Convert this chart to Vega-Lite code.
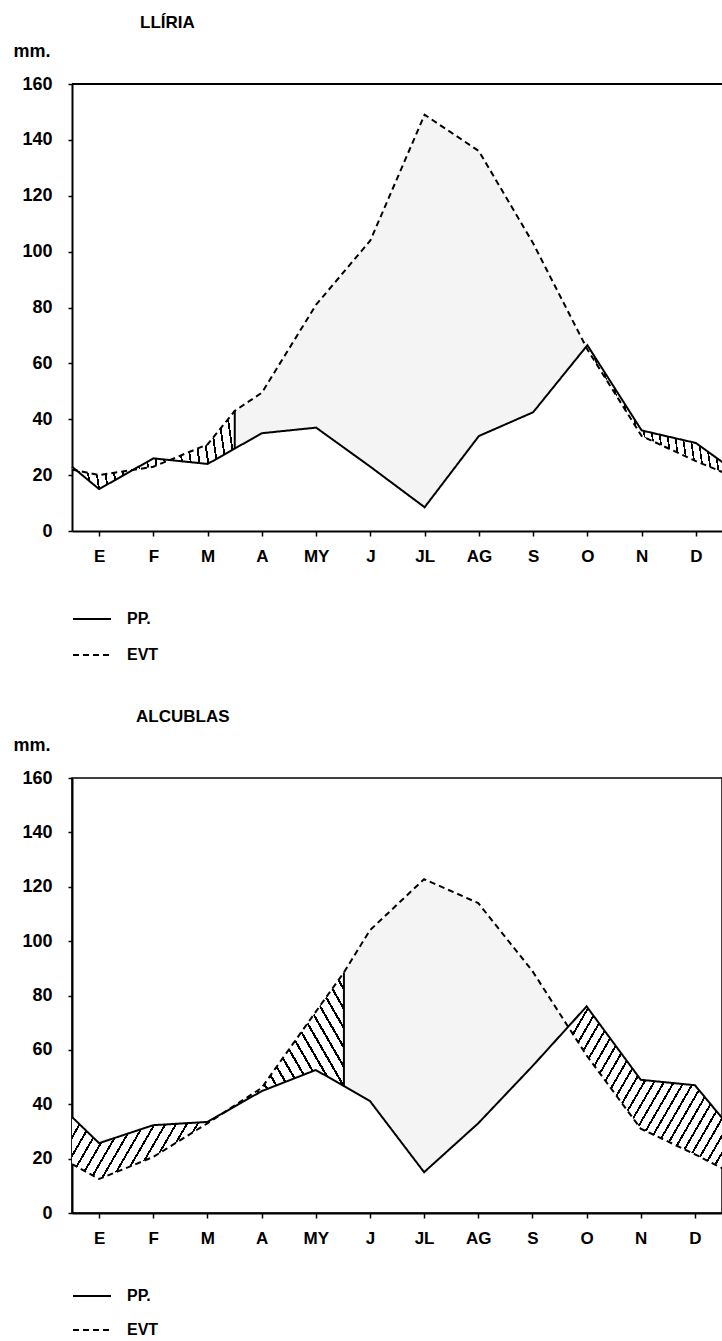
{
"$schema":"https://vega.github.io/schema/vega-lite/v6.json",
"background":"white",
"padding":{"left":12,"top":14,"right":0,"bottom":0},
"spacing":44,
"resolve":{"scale":{"strokeDash":"independent"},"legend":{"strokeDash":"independent"}},
"config":{
 "font":"Liberation Sans",
 "view":{"stroke":"#000","strokeWidth":1.5},
 "axis":{"domainColor":"#000","domainWidth":2,"tickColor":"#000","tickWidth":1.5,"labelColor":"#000","labelFontWeight":"bold","grid":false,"titleColor":"#000"},
 "axisY":{"tickSize":4,"labelPadding":16,"labelFontSize":18,"titleAngle":0,"titleAlign":"left","titleBaseline":"alphabetic","titleX":-59,"titleY":-28,"titleFontSize":18,"titleFontWeight":"bold"},
 "axisX":{"tickSize":5,"labelPadding":12,"labelFontSize":17},
 "legend":{"orient":"bottom","direction":"vertical","title":null,"symbolType":"stroke","symbolSize":1444,"symbolStrokeWidth":2,"symbolStrokeColor":"#000","labelFontSize":16,"labelFontWeight":"bold","labelColor":"#000","labelOffset":15},
 "title":{"fontSize":17,"fontWeight":"bold","color":"#000","anchor":"start","frame":"group","offset":10}
},
"datasets":{
 "lliria":[
  {"mes":0.5,"pp":23,"evt":22,"zona":"Z1"},
  {"mes":1,"pp":15,"evt":20,"zona":"Z1"},
  {"mes":2,"pp":26,"evt":23,"zona":"Z1"},
  {"mes":3,"pp":24,"evt":31,"zona":"Z1"},
  {"mes":3.5,"pp":29.5,"evt":43,"zona":"Z1"},
  {"mes":3.5,"pp":29.5,"evt":43,"zona":"Z2"},
  {"mes":4,"pp":35,"evt":49.5,"zona":"Z2"},
  {"mes":5,"pp":37,"evt":81,"zona":"Z2"},
  {"mes":6,"pp":23,"evt":104,"zona":"Z2"},
  {"mes":7,"pp":8.5,"evt":149,"zona":"Z2"},
  {"mes":8,"pp":34,"evt":136,"zona":"Z2"},
  {"mes":9,"pp":42.5,"evt":103,"zona":"Z2"},
  {"mes":10,"pp":66.5,"evt":65,"zona":"Z2"},
  {"mes":10,"pp":66.5,"evt":65,"zona":"Z3"},
  {"mes":11,"pp":36,"evt":34,"zona":"Z3"},
  {"mes":12,"pp":31.5,"evt":25,"zona":"Z3"},
  {"mes":12.5,"pp":24.5,"evt":21,"zona":"Z3"}
 ],
 "alcublas":[
  {"mes":0.5,"pp":35.3,"evt":18,"zona":"B1"},
  {"mes":1,"pp":25.7,"evt":12.5,"zona":"B1"},
  {"mes":2,"pp":32.3,"evt":20.6,"zona":"B1"},
  {"mes":3,"pp":33.5,"evt":33,"zona":"B1"},
  {"mes":3,"pp":33.5,"evt":33,"zona":"B2"},
  {"mes":4,"pp":44.8,"evt":46,"zona":"B2"},
  {"mes":5,"pp":52.6,"evt":74,"zona":"B2"},
  {"mes":5.52,"pp":46.7,"evt":88.5,"zona":"B2"},
  {"mes":5.52,"pp":46.7,"evt":88.5,"zona":"B3"},
  {"mes":6,"pp":41.2,"evt":104,"zona":"B3"},
  {"mes":7,"pp":15,"evt":122.8,"zona":"B3"},
  {"mes":8,"pp":33,"evt":114,"zona":"B3"},
  {"mes":9,"pp":54,"evt":89,"zona":"B3"},
  {"mes":9.66,"pp":68.5,"evt":68.5,"zona":"B3"},
  {"mes":9.66,"pp":68.5,"evt":68.5,"zona":"B4"},
  {"mes":10,"pp":76,"evt":58,"zona":"B4"},
  {"mes":11,"pp":49,"evt":31,"zona":"B4"},
  {"mes":12,"pp":47,"evt":21.6,"zona":"B4"},
  {"mes":12.5,"pp":35,"evt":16.5,"zona":"B4"}
 ],
 "cortes":[
  {"estacion":"Llíria","mes":3.5,"pp":29.5,"evt":43},
  {"estacion":"Alcublas","mes":5.52,"pp":46.7,"evt":88.5}
 ]
},
"vconcat":[
 {
  "width":651,"height":447,
  "view":{"stroke":null},
  "title":{"text":"LLÍRIA","dx":68},
  "data":{"name":"lliria"},
  "layer":[
   {"transform":[{"filter":"datum.zona == 'Z1'"}],
    "mark":{"type":"area","stroke":null,"fill":{"gradient":"linear","x1":0,"y1":1,"x2":1.062,"y2":0.928,"stops":[{"offset":0,"color":"#fff"},{"offset":0.05,"color":"#fff"},{"offset":0.05,"color":"#000"},{"offset":0.061,"color":"#000"},{"offset":0.061,"color":"#fff"},{"offset":0.1,"color":"#fff"},{"offset":0.1,"color":"#000"},{"offset":0.111,"color":"#000"},{"offset":0.111,"color":"#fff"},{"offset":0.15,"color":"#fff"},{"offset":0.15,"color":"#000"},{"offset":0.161,"color":"#000"},{"offset":0.161,"color":"#fff"},{"offset":0.2,"color":"#fff"},{"offset":0.2,"color":"#000"},{"offset":0.211,"color":"#000"},{"offset":0.211,"color":"#fff"},{"offset":0.25,"color":"#fff"},{"offset":0.25,"color":"#000"},{"offset":0.261,"color":"#000"},{"offset":0.261,"color":"#fff"},{"offset":0.3,"color":"#fff"},{"offset":0.3,"color":"#000"},{"offset":0.311,"color":"#000"},{"offset":0.311,"color":"#fff"},{"offset":0.35,"color":"#fff"},{"offset":0.35,"color":"#000"},{"offset":0.361,"color":"#000"},{"offset":0.361,"color":"#fff"},{"offset":0.4,"color":"#fff"},{"offset":0.4,"color":"#000"},{"offset":0.411,"color":"#000"},{"offset":0.411,"color":"#fff"},{"offset":0.45,"color":"#fff"},{"offset":0.45,"color":"#000"},{"offset":0.461,"color":"#000"},{"offset":0.461,"color":"#fff"},{"offset":0.5,"color":"#fff"},{"offset":0.5,"color":"#000"},{"offset":0.511,"color":"#000"},{"offset":0.511,"color":"#fff"},{"offset":0.55,"color":"#fff"},{"offset":0.55,"color":"#000"},{"offset":0.561,"color":"#000"},{"offset":0.561,"color":"#fff"},{"offset":0.6,"color":"#fff"},{"offset":0.6,"color":"#000"},{"offset":0.611,"color":"#000"},{"offset":0.611,"color":"#fff"},{"offset":0.65,"color":"#fff"},{"offset":0.65,"color":"#000"},{"offset":0.661,"color":"#000"},{"offset":0.661,"color":"#fff"},{"offset":0.7,"color":"#fff"},{"offset":0.7,"color":"#000"},{"offset":0.711,"color":"#000"},{"offset":0.711,"color":"#fff"},{"offset":0.75,"color":"#fff"},{"offset":0.75,"color":"#000"},{"offset":0.761,"color":"#000"},{"offset":0.761,"color":"#fff"},{"offset":0.8,"color":"#fff"},{"offset":0.8,"color":"#000"},{"offset":0.811,"color":"#000"},{"offset":0.811,"color":"#fff"},{"offset":0.85,"color":"#fff"},{"offset":0.85,"color":"#000"},{"offset":0.861,"color":"#000"},{"offset":0.861,"color":"#fff"},{"offset":0.9,"color":"#fff"},{"offset":0.9,"color":"#000"},{"offset":0.911,"color":"#000"},{"offset":0.911,"color":"#fff"},{"offset":0.95,"color":"#fff"},{"offset":0.95,"color":"#000"},{"offset":0.961,"color":"#000"},{"offset":0.961,"color":"#fff"},{"offset":1,"color":"#fff"}]}},
    "encoding":{
     "x":{"field":"mes","type":"quantitative","scale":{"domain":[0.5,12.5],"nice":false,"zero":false},"axis":{"values":[1,2,3,4,5,6,7,8,9,10,11,12],"labelExpr":"['E','F','M','A','MY','J','JL','AG','S','O','N','D'][datum.value-1]","title":null}},
     "y":{"field":"pp","type":"quantitative","title":"mm.","scale":{"domain":[0,160],"nice":false},"axis":{"values":[0,20,40,60,80,100,120,140,160]}},
     "y2":{"field":"evt"}}},
   {"transform":[{"filter":"datum.zona == 'Z2'"}],
    "mark":{"type":"area","stroke":null,"fill":"#f4f4f4"},
    "encoding":{
     "x":{"field":"mes","type":"quantitative","scale":{"domain":[0.5,12.5],"nice":false,"zero":false},"axis":{"values":[1,2,3,4,5,6,7,8,9,10,11,12],"labelExpr":"['E','F','M','A','MY','J','JL','AG','S','O','N','D'][datum.value-1]","title":null}},
     "y":{"field":"pp","type":"quantitative","title":"mm.","scale":{"domain":[0,160],"nice":false},"axis":{"values":[0,20,40,60,80,100,120,140,160]}},
     "y2":{"field":"evt"}}},
   {"transform":[{"filter":"datum.zona == 'Z3'"}],
    "mark":{"type":"area","stroke":null,"fill":{"gradient":"linear","x1":0,"y1":1,"x2":1.112,"y2":0.854,"stops":[{"offset":0,"color":"#fff"},{"offset":0.05,"color":"#fff"},{"offset":0.05,"color":"#000"},{"offset":0.061,"color":"#000"},{"offset":0.061,"color":"#fff"},{"offset":0.1,"color":"#fff"},{"offset":0.1,"color":"#000"},{"offset":0.111,"color":"#000"},{"offset":0.111,"color":"#fff"},{"offset":0.15,"color":"#fff"},{"offset":0.15,"color":"#000"},{"offset":0.161,"color":"#000"},{"offset":0.161,"color":"#fff"},{"offset":0.2,"color":"#fff"},{"offset":0.2,"color":"#000"},{"offset":0.211,"color":"#000"},{"offset":0.211,"color":"#fff"},{"offset":0.25,"color":"#fff"},{"offset":0.25,"color":"#000"},{"offset":0.261,"color":"#000"},{"offset":0.261,"color":"#fff"},{"offset":0.3,"color":"#fff"},{"offset":0.3,"color":"#000"},{"offset":0.311,"color":"#000"},{"offset":0.311,"color":"#fff"},{"offset":0.35,"color":"#fff"},{"offset":0.35,"color":"#000"},{"offset":0.361,"color":"#000"},{"offset":0.361,"color":"#fff"},{"offset":0.4,"color":"#fff"},{"offset":0.4,"color":"#000"},{"offset":0.411,"color":"#000"},{"offset":0.411,"color":"#fff"},{"offset":0.45,"color":"#fff"},{"offset":0.45,"color":"#000"},{"offset":0.461,"color":"#000"},{"offset":0.461,"color":"#fff"},{"offset":0.5,"color":"#fff"},{"offset":0.5,"color":"#000"},{"offset":0.511,"color":"#000"},{"offset":0.511,"color":"#fff"},{"offset":0.55,"color":"#fff"},{"offset":0.55,"color":"#000"},{"offset":0.561,"color":"#000"},{"offset":0.561,"color":"#fff"},{"offset":0.6,"color":"#fff"},{"offset":0.6,"color":"#000"},{"offset":0.611,"color":"#000"},{"offset":0.611,"color":"#fff"},{"offset":0.65,"color":"#fff"},{"offset":0.65,"color":"#000"},{"offset":0.661,"color":"#000"},{"offset":0.661,"color":"#fff"},{"offset":0.7,"color":"#fff"},{"offset":0.7,"color":"#000"},{"offset":0.711,"color":"#000"},{"offset":0.711,"color":"#fff"},{"offset":0.75,"color":"#fff"},{"offset":0.75,"color":"#000"},{"offset":0.761,"color":"#000"},{"offset":0.761,"color":"#fff"},{"offset":0.8,"color":"#fff"},{"offset":0.8,"color":"#000"},{"offset":0.811,"color":"#000"},{"offset":0.811,"color":"#fff"},{"offset":0.85,"color":"#fff"},{"offset":0.85,"color":"#000"},{"offset":0.861,"color":"#000"},{"offset":0.861,"color":"#fff"},{"offset":0.9,"color":"#fff"},{"offset":0.9,"color":"#000"},{"offset":0.911,"color":"#000"},{"offset":0.911,"color":"#fff"},{"offset":0.95,"color":"#fff"},{"offset":0.95,"color":"#000"},{"offset":0.961,"color":"#000"},{"offset":0.961,"color":"#fff"},{"offset":1,"color":"#fff"}]}},
    "encoding":{
     "x":{"field":"mes","type":"quantitative","scale":{"domain":[0.5,12.5],"nice":false,"zero":false},"axis":{"values":[1,2,3,4,5,6,7,8,9,10,11,12],"labelExpr":"['E','F','M','A','MY','J','JL','AG','S','O','N','D'][datum.value-1]","title":null}},
     "y":{"field":"pp","type":"quantitative","title":"mm.","scale":{"domain":[0,160],"nice":false},"axis":{"values":[0,20,40,60,80,100,120,140,160]}},
     "y2":{"field":"evt"}}},
   {"mark":{"type":"line","color":"#000","strokeWidth":2},
    "encoding":{
     "x":{"field":"mes","type":"quantitative","scale":{"domain":[0.5,12.5],"nice":false,"zero":false},"axis":{"values":[1,2,3,4,5,6,7,8,9,10,11,12],"labelExpr":"['E','F','M','A','MY','J','JL','AG','S','O','N','D'][datum.value-1]","title":null}},
     "y":{"field":"pp","type":"quantitative","title":"mm.","scale":{"domain":[0,160],"nice":false},"axis":{"values":[0,20,40,60,80,100,120,140,160]}},
     "strokeDash":{"datum":"PP.","type":"nominal","scale":{"domain":["PP.","EVT"],"range":[[1,0],[6,4]]},"legend":{"offset":35,"rowPadding":8}}}},
   {"mark":{"type":"line","color":"#000","strokeWidth":2},
    "encoding":{
     "x":{"field":"mes","type":"quantitative","scale":{"domain":[0.5,12.5],"nice":false,"zero":false},"axis":{"values":[1,2,3,4,5,6,7,8,9,10,11,12],"labelExpr":"['E','F','M','A','MY','J','JL','AG','S','O','N','D'][datum.value-1]","title":null}},
     "y":{"field":"evt","type":"quantitative","title":"mm.","scale":{"domain":[0,160],"nice":false},"axis":{"values":[0,20,40,60,80,100,120,140,160]}},
     "strokeDash":{"datum":"EVT","type":"nominal","scale":{"domain":["PP.","EVT"],"range":[[1,0],[6,4]]},"legend":{"offset":35,"rowPadding":8}}}},
   {"data":{"name":"cortes"},
    "transform":[{"filter":"datum.estacion == 'Llíria'"}],
    "mark":{"type":"rule","color":"#000","strokeWidth":2},
    "encoding":{
     "x":{"field":"mes","type":"quantitative","scale":{"domain":[0.5,12.5],"nice":false,"zero":false},"axis":{"values":[1,2,3,4,5,6,7,8,9,10,11,12],"labelExpr":"['E','F','M','A','MY','J','JL','AG','S','O','N','D'][datum.value-1]","title":null}},
     "y":{"field":"pp","type":"quantitative","title":"mm.","scale":{"domain":[0,160],"nice":false},"axis":{"values":[0,20,40,60,80,100,120,140,160]}},
     "y2":{"field":"evt"}}},
   {"data":{"values":[{}]},
    "mark":{"type":"rule","color":"#000","strokeWidth":2},
    "encoding":{
     "y":{"datum":160,"type":"quantitative","title":"mm.","scale":{"domain":[0,160],"nice":false},"axis":{"values":[0,20,40,60,80,100,120,140,160]}}}}
  ]
 },
 {
  "width":650,"height":435,
  "title":{"text":"ALCUBLAS","dx":64},
  "data":{"name":"alcublas"},
  "layer":[
   {"transform":[{"filter":"datum.zona == 'B1'"}],
    "mark":{"type":"area","stroke":null,"fill":{"gradient":"linear","x1":0,"y1":0,"x2":1.182,"y2":0.313,"stops":[{"offset":0,"color":"#fff"},{"offset":0.0625,"color":"#fff"},{"offset":0.0625,"color":"#000"},{"offset":0.0755,"color":"#000"},{"offset":0.0755,"color":"#fff"},{"offset":0.125,"color":"#fff"},{"offset":0.125,"color":"#000"},{"offset":0.138,"color":"#000"},{"offset":0.138,"color":"#fff"},{"offset":0.1875,"color":"#fff"},{"offset":0.1875,"color":"#000"},{"offset":0.2005,"color":"#000"},{"offset":0.2005,"color":"#fff"},{"offset":0.25,"color":"#fff"},{"offset":0.25,"color":"#000"},{"offset":0.263,"color":"#000"},{"offset":0.263,"color":"#fff"},{"offset":0.3125,"color":"#fff"},{"offset":0.3125,"color":"#000"},{"offset":0.3255,"color":"#000"},{"offset":0.3255,"color":"#fff"},{"offset":0.375,"color":"#fff"},{"offset":0.375,"color":"#000"},{"offset":0.388,"color":"#000"},{"offset":0.388,"color":"#fff"},{"offset":0.4375,"color":"#fff"},{"offset":0.4375,"color":"#000"},{"offset":0.4505,"color":"#000"},{"offset":0.4505,"color":"#fff"},{"offset":0.5,"color":"#fff"},{"offset":0.5,"color":"#000"},{"offset":0.513,"color":"#000"},{"offset":0.513,"color":"#fff"},{"offset":0.5625,"color":"#fff"},{"offset":0.5625,"color":"#000"},{"offset":0.5755,"color":"#000"},{"offset":0.5755,"color":"#fff"},{"offset":0.625,"color":"#fff"},{"offset":0.625,"color":"#000"},{"offset":0.638,"color":"#000"},{"offset":0.638,"color":"#fff"},{"offset":0.6875,"color":"#fff"},{"offset":0.6875,"color":"#000"},{"offset":0.7005,"color":"#000"},{"offset":0.7005,"color":"#fff"},{"offset":0.75,"color":"#fff"},{"offset":0.75,"color":"#000"},{"offset":0.763,"color":"#000"},{"offset":0.763,"color":"#fff"},{"offset":0.8125,"color":"#fff"},{"offset":0.8125,"color":"#000"},{"offset":0.8255,"color":"#000"},{"offset":0.8255,"color":"#fff"},{"offset":0.875,"color":"#fff"},{"offset":0.875,"color":"#000"},{"offset":0.888,"color":"#000"},{"offset":0.888,"color":"#fff"},{"offset":0.9375,"color":"#fff"},{"offset":0.9375,"color":"#000"},{"offset":0.9505,"color":"#000"},{"offset":0.9505,"color":"#fff"},{"offset":1,"color":"#fff"}]}},
    "encoding":{
     "x":{"field":"mes","type":"quantitative","scale":{"domain":[0.5,12.5],"nice":false,"zero":false},"axis":{"values":[1,2,3,4,5,6,7,8,9,10,11,12],"labelExpr":"['E','F','M','A','MY','J','JL','AG','S','O','N','D'][datum.value-1]","title":null}},
     "y":{"field":"pp","type":"quantitative","title":"mm.","scale":{"domain":[0,160],"nice":false},"axis":{"values":[0,20,40,60,80,100,120,140,160]}},
     "y2":{"field":"evt"}}},
   {"transform":[{"filter":"datum.zona == 'B2'"}],
    "mark":{"type":"area","stroke":null,"fill":{"gradient":"linear","x1":0,"y1":1,"x2":1.164,"y2":0.256,"stops":[{"offset":0,"color":"#fff"},{"offset":0.05,"color":"#fff"},{"offset":0.05,"color":"#000"},{"offset":0.061,"color":"#000"},{"offset":0.061,"color":"#fff"},{"offset":0.1,"color":"#fff"},{"offset":0.1,"color":"#000"},{"offset":0.111,"color":"#000"},{"offset":0.111,"color":"#fff"},{"offset":0.15,"color":"#fff"},{"offset":0.15,"color":"#000"},{"offset":0.161,"color":"#000"},{"offset":0.161,"color":"#fff"},{"offset":0.2,"color":"#fff"},{"offset":0.2,"color":"#000"},{"offset":0.211,"color":"#000"},{"offset":0.211,"color":"#fff"},{"offset":0.25,"color":"#fff"},{"offset":0.25,"color":"#000"},{"offset":0.261,"color":"#000"},{"offset":0.261,"color":"#fff"},{"offset":0.3,"color":"#fff"},{"offset":0.3,"color":"#000"},{"offset":0.311,"color":"#000"},{"offset":0.311,"color":"#fff"},{"offset":0.35,"color":"#fff"},{"offset":0.35,"color":"#000"},{"offset":0.361,"color":"#000"},{"offset":0.361,"color":"#fff"},{"offset":0.4,"color":"#fff"},{"offset":0.4,"color":"#000"},{"offset":0.411,"color":"#000"},{"offset":0.411,"color":"#fff"},{"offset":0.45,"color":"#fff"},{"offset":0.45,"color":"#000"},{"offset":0.461,"color":"#000"},{"offset":0.461,"color":"#fff"},{"offset":0.5,"color":"#fff"},{"offset":0.5,"color":"#000"},{"offset":0.511,"color":"#000"},{"offset":0.511,"color":"#fff"},{"offset":0.55,"color":"#fff"},{"offset":0.55,"color":"#000"},{"offset":0.561,"color":"#000"},{"offset":0.561,"color":"#fff"},{"offset":0.6,"color":"#fff"},{"offset":0.6,"color":"#000"},{"offset":0.611,"color":"#000"},{"offset":0.611,"color":"#fff"},{"offset":0.65,"color":"#fff"},{"offset":0.65,"color":"#000"},{"offset":0.661,"color":"#000"},{"offset":0.661,"color":"#fff"},{"offset":0.7,"color":"#fff"},{"offset":0.7,"color":"#000"},{"offset":0.711,"color":"#000"},{"offset":0.711,"color":"#fff"},{"offset":0.75,"color":"#fff"},{"offset":0.75,"color":"#000"},{"offset":0.761,"color":"#000"},{"offset":0.761,"color":"#fff"},{"offset":0.8,"color":"#fff"},{"offset":0.8,"color":"#000"},{"offset":0.811,"color":"#000"},{"offset":0.811,"color":"#fff"},{"offset":0.85,"color":"#fff"},{"offset":0.85,"color":"#000"},{"offset":0.861,"color":"#000"},{"offset":0.861,"color":"#fff"},{"offset":0.9,"color":"#fff"},{"offset":0.9,"color":"#000"},{"offset":0.911,"color":"#000"},{"offset":0.911,"color":"#fff"},{"offset":0.95,"color":"#fff"},{"offset":0.95,"color":"#000"},{"offset":0.961,"color":"#000"},{"offset":0.961,"color":"#fff"},{"offset":1,"color":"#fff"}]}},
    "encoding":{
     "x":{"field":"mes","type":"quantitative","scale":{"domain":[0.5,12.5],"nice":false,"zero":false},"axis":{"values":[1,2,3,4,5,6,7,8,9,10,11,12],"labelExpr":"['E','F','M','A','MY','J','JL','AG','S','O','N','D'][datum.value-1]","title":null}},
     "y":{"field":"pp","type":"quantitative","title":"mm.","scale":{"domain":[0,160],"nice":false},"axis":{"values":[0,20,40,60,80,100,120,140,160]}},
     "y2":{"field":"evt"}}},
   {"transform":[{"filter":"datum.zona == 'B3'"}],
    "mark":{"type":"area","stroke":null,"fill":"#f4f4f4"},
    "encoding":{
     "x":{"field":"mes","type":"quantitative","scale":{"domain":[0.5,12.5],"nice":false,"zero":false},"axis":{"values":[1,2,3,4,5,6,7,8,9,10,11,12],"labelExpr":"['E','F','M','A','MY','J','JL','AG','S','O','N','D'][datum.value-1]","title":null}},
     "y":{"field":"pp","type":"quantitative","title":"mm.","scale":{"domain":[0,160],"nice":false},"axis":{"values":[0,20,40,60,80,100,120,140,160]}},
     "y2":{"field":"evt"}}},
   {"transform":[{"filter":"datum.zona == 'B4'"}],
    "mark":{"type":"area","stroke":null,"fill":{"gradient":"linear","x1":0,"y1":0,"x2":1.174,"y2":0.713,"stops":[{"offset":0,"color":"#fff"},{"offset":0.04,"color":"#fff"},{"offset":0.04,"color":"#000"},{"offset":0.049,"color":"#000"},{"offset":0.049,"color":"#fff"},{"offset":0.08,"color":"#fff"},{"offset":0.08,"color":"#000"},{"offset":0.089,"color":"#000"},{"offset":0.089,"color":"#fff"},{"offset":0.12,"color":"#fff"},{"offset":0.12,"color":"#000"},{"offset":0.129,"color":"#000"},{"offset":0.129,"color":"#fff"},{"offset":0.16,"color":"#fff"},{"offset":0.16,"color":"#000"},{"offset":0.169,"color":"#000"},{"offset":0.169,"color":"#fff"},{"offset":0.2,"color":"#fff"},{"offset":0.2,"color":"#000"},{"offset":0.209,"color":"#000"},{"offset":0.209,"color":"#fff"},{"offset":0.24,"color":"#fff"},{"offset":0.24,"color":"#000"},{"offset":0.249,"color":"#000"},{"offset":0.249,"color":"#fff"},{"offset":0.28,"color":"#fff"},{"offset":0.28,"color":"#000"},{"offset":0.289,"color":"#000"},{"offset":0.289,"color":"#fff"},{"offset":0.32,"color":"#fff"},{"offset":0.32,"color":"#000"},{"offset":0.329,"color":"#000"},{"offset":0.329,"color":"#fff"},{"offset":0.36,"color":"#fff"},{"offset":0.36,"color":"#000"},{"offset":0.369,"color":"#000"},{"offset":0.369,"color":"#fff"},{"offset":0.4,"color":"#fff"},{"offset":0.4,"color":"#000"},{"offset":0.409,"color":"#000"},{"offset":0.409,"color":"#fff"},{"offset":0.44,"color":"#fff"},{"offset":0.44,"color":"#000"},{"offset":0.449,"color":"#000"},{"offset":0.449,"color":"#fff"},{"offset":0.48,"color":"#fff"},{"offset":0.48,"color":"#000"},{"offset":0.489,"color":"#000"},{"offset":0.489,"color":"#fff"},{"offset":0.52,"color":"#fff"},{"offset":0.52,"color":"#000"},{"offset":0.529,"color":"#000"},{"offset":0.529,"color":"#fff"},{"offset":0.56,"color":"#fff"},{"offset":0.56,"color":"#000"},{"offset":0.569,"color":"#000"},{"offset":0.569,"color":"#fff"},{"offset":0.6,"color":"#fff"},{"offset":0.6,"color":"#000"},{"offset":0.609,"color":"#000"},{"offset":0.609,"color":"#fff"},{"offset":0.64,"color":"#fff"},{"offset":0.64,"color":"#000"},{"offset":0.649,"color":"#000"},{"offset":0.649,"color":"#fff"},{"offset":0.68,"color":"#fff"},{"offset":0.68,"color":"#000"},{"offset":0.689,"color":"#000"},{"offset":0.689,"color":"#fff"},{"offset":0.72,"color":"#fff"},{"offset":0.72,"color":"#000"},{"offset":0.729,"color":"#000"},{"offset":0.729,"color":"#fff"},{"offset":0.76,"color":"#fff"},{"offset":0.76,"color":"#000"},{"offset":0.769,"color":"#000"},{"offset":0.769,"color":"#fff"},{"offset":0.8,"color":"#fff"},{"offset":0.8,"color":"#000"},{"offset":0.809,"color":"#000"},{"offset":0.809,"color":"#fff"},{"offset":0.84,"color":"#fff"},{"offset":0.84,"color":"#000"},{"offset":0.849,"color":"#000"},{"offset":0.849,"color":"#fff"},{"offset":0.88,"color":"#fff"},{"offset":0.88,"color":"#000"},{"offset":0.889,"color":"#000"},{"offset":0.889,"color":"#fff"},{"offset":0.92,"color":"#fff"},{"offset":0.92,"color":"#000"},{"offset":0.929,"color":"#000"},{"offset":0.929,"color":"#fff"},{"offset":0.96,"color":"#fff"},{"offset":0.96,"color":"#000"},{"offset":0.969,"color":"#000"},{"offset":0.969,"color":"#fff"},{"offset":1,"color":"#fff"}]}},
    "encoding":{
     "x":{"field":"mes","type":"quantitative","scale":{"domain":[0.5,12.5],"nice":false,"zero":false},"axis":{"values":[1,2,3,4,5,6,7,8,9,10,11,12],"labelExpr":"['E','F','M','A','MY','J','JL','AG','S','O','N','D'][datum.value-1]","title":null}},
     "y":{"field":"pp","type":"quantitative","title":"mm.","scale":{"domain":[0,160],"nice":false},"axis":{"values":[0,20,40,60,80,100,120,140,160]}},
     "y2":{"field":"evt"}}},
   {"mark":{"type":"line","color":"#000","strokeWidth":2},
    "encoding":{
     "x":{"field":"mes","type":"quantitative","scale":{"domain":[0.5,12.5],"nice":false,"zero":false},"axis":{"values":[1,2,3,4,5,6,7,8,9,10,11,12],"labelExpr":"['E','F','M','A','MY','J','JL','AG','S','O','N','D'][datum.value-1]","title":null}},
     "y":{"field":"pp","type":"quantitative","title":"mm.","scale":{"domain":[0,160],"nice":false},"axis":{"values":[0,20,40,60,80,100,120,140,160]}},
     "strokeDash":{"datum":"PP.","type":"nominal","scale":{"domain":["PP.","EVT"],"range":[[1,0],[6,4]]},"legend":{"offset":30,"rowPadding":6}}}},
   {"mark":{"type":"line","color":"#000","strokeWidth":2},
    "encoding":{
     "x":{"field":"mes","type":"quantitative","scale":{"domain":[0.5,12.5],"nice":false,"zero":false},"axis":{"values":[1,2,3,4,5,6,7,8,9,10,11,12],"labelExpr":"['E','F','M','A','MY','J','JL','AG','S','O','N','D'][datum.value-1]","title":null}},
     "y":{"field":"evt","type":"quantitative","title":"mm.","scale":{"domain":[0,160],"nice":false},"axis":{"values":[0,20,40,60,80,100,120,140,160]}},
     "strokeDash":{"datum":"EVT","type":"nominal","scale":{"domain":["PP.","EVT"],"range":[[1,0],[6,4]]},"legend":{"offset":30,"rowPadding":6}}}},
   {"data":{"name":"cortes"},
    "transform":[{"filter":"datum.estacion == 'Alcublas'"}],
    "mark":{"type":"rule","color":"#000","strokeWidth":2},
    "encoding":{
     "x":{"field":"mes","type":"quantitative","scale":{"domain":[0.5,12.5],"nice":false,"zero":false},"axis":{"values":[1,2,3,4,5,6,7,8,9,10,11,12],"labelExpr":"['E','F','M','A','MY','J','JL','AG','S','O','N','D'][datum.value-1]","title":null}},
     "y":{"field":"pp","type":"quantitative","title":"mm.","scale":{"domain":[0,160],"nice":false},"axis":{"values":[0,20,40,60,80,100,120,140,160]}},
     "y2":{"field":"evt"}}}
  ]
 }
]
}
